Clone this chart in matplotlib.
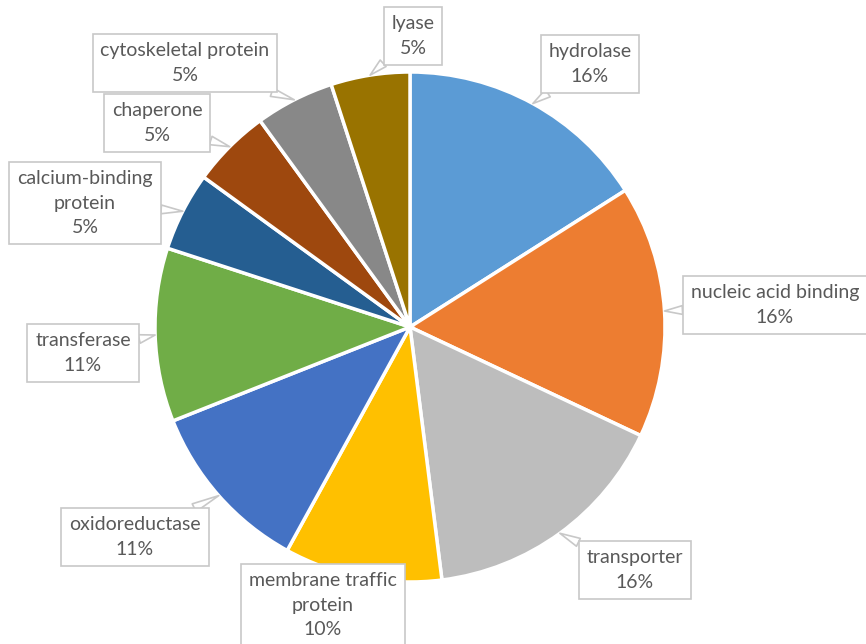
import numpy as np
import matplotlib.pyplot as plt

# protein classes, clockwise from 12 o'clock
classes = ["hydrolase", "nucleic acid binding", "transporter",
           "membrane traffic\nprotein", "oxidoreductase", "transferase",
           "calcium-binding\nprotein", "chaperone", "cytoskeletal protein", "lyase"]
percent = [16, 16, 16, 10, 11, 11, 5, 5, 5, 5]
colors = ["#5B9BD5", "#ED7D31", "#BDBDBD", "#FFC000", "#4472C4",
          "#70AD47", "#255E91", "#9E480E", "#888888", "#997300"]

# callout box centres in image pixels (x from left, y from top)
label_pos = [(590, 64), (775, 305), (635, 570), (323, 605), (135, 537),
             (83, 353), (85, 203), (157, 123), (185, 63), (413, 36)]
has_pointer = [True, True, True, False, True, True, True, True, True, True]

W, H = 866, 644
cx, cy, R = 410, H - 327, 255

plt.rcParams['font.family'] = ['Lato', 'DejaVu Sans']

fig = plt.figure(figsize=(W / 100, H / 100), dpi=100)
ax = fig.add_axes([0, 0, 1, 1])

wedges, _ = ax.pie(percent, colors=colors, startangle=90, counterclock=False,
                   center=(cx, cy), radius=R,
                   wedgeprops=dict(edgecolor='white', linewidth=2.5))

# pie() resets the limits, so set them afterwards
ax.set_xlim(0, W)
ax.set_ylim(0, H)
ax.set_aspect('equal')
ax.axis('off')

for w, name, p, pos, ptr in zip(wedges, classes, percent, label_pos, has_pointer):
    mid = np.deg2rad((w.theta1 + w.theta2) / 2)
    tip = (cx + R * np.cos(mid), cy + R * np.sin(mid))
    txt = f"{name}\n{p}%"
    box = dict(boxstyle='square,pad=0.4', fc='white', ec='#C8C8C8', lw=1.2)
    arrow = None
    if ptr:
        arrow = dict(arrowstyle='wedge,tail_width=0.45,shrink_factor=0.5',
                     fc='white', ec='#C8C8C8', lw=1.2, shrinkA=0, shrinkB=0)
    ax.annotate(txt, xy=tip, xytext=(pos[0], H - pos[1]),
                ha='center', va='center', fontsize=14, color='#595959',
                linespacing=1.55, bbox=box, arrowprops=arrow, zorder=5)

fig.savefig("out.png", dpi=100)
